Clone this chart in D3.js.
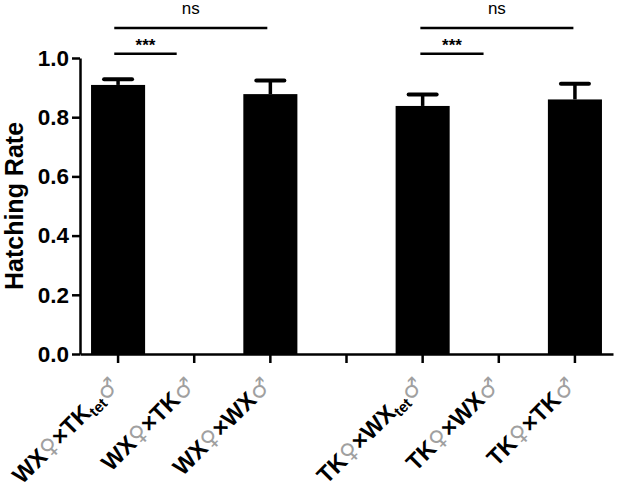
<!DOCTYPE html>
<html><head><meta charset="utf-8">
<script src="https://cdn.jsdelivr.net/npm/d3@7"></script>
<style>body{margin:0;background:#fff}svg{display:block}</style>
</head><body>
<svg id="c" width="621" height="488"></svg>
<script>
const categories = ["WX♀×TKtet♂","WX♀×TK♂","WX♀×WX♂","gap","TK♀×WXtet♂","TK♀×WX♂","TK♀×TK♂"];
const femaleParent = ["WX","WX","WX","","TK","TK","TK"];
const maleParent = ["TK","TK","WX","","WX","WX","TK"];
const maleSub = ["tet","","","","tet","",""];
const hatchingRate = [0.909, 0, 0.878, null, 0.838, 0, 0.860];
const errorUpper = [0.019, 0, 0.046, null, 0.039, 0, 0.053];
const yTicks = [0, 0.2, 0.4, 0.6, 0.8, 1.0];
const compFrom = [-0.05, -0.05, 3.97, 3.97];
const compTo = [0.77, 1.96, 4.80, 5.98];
const compLabel = ["***", "ns", "***", "ns"];
const compHeight = [1.014, 1.101, 1.014, 1.101];

const svg = d3.select("#c");
const m = {left: 80, right: 8, top: 58, bottom: 134};
const W = 621, H = 488;
const x = d3.scaleBand().domain(categories).range([m.left, W - m.right]).paddingInner(0.29).paddingOuter(0.145);
const y = d3.scaleLinear().domain([0, 1]).range([H - m.bottom, m.top]);
const bw = x.bandwidth();
const cx = i => x(categories[i]) + bw / 2;
const xi = d3.scaleLinear().domain([0, 6]).range([cx(0), cx(6)]);
const FONT = "'Liberation Sans', Arial, sans-serif";
const SYM = "'DejaVu Sans', sans-serif";

const data = categories.map((c, i) => ({c, i, v: hatchingRate[i], e: errorUpper[i]}));

// bars
svg.append("g").selectAll("rect").data(data.filter(d => d.v > 0)).join("rect")
  .attr("x", d => x(d.c)).attr("width", bw)
  .attr("y", d => y(d.v)).attr("height", d => y(0) - y(d.v))
  .attr("fill", "#000");

// error bars
const eb = svg.append("g").attr("stroke", "#000");
data.filter(d => d.v > 0).forEach(d => {
  const c = cx(d.i);
  eb.append("line").attr("x1", c).attr("x2", c).attr("y1", y(d.v)).attr("y2", y(d.v + d.e)).attr("stroke-width", 3.5);
  eb.append("line").attr("x1", c - 14).attr("x2", c + 14).attr("y1", y(d.v + d.e)).attr("y2", y(d.v + d.e))
    .attr("stroke-width", 4).attr("stroke-linecap", "round");
});

// y axis
const ya = svg.append("g").attr("transform", `translate(${m.left},0)`)
  .call(d3.axisLeft(y).tickValues(yTicks).tickFormat(d3.format(".1f")).tickSize(8).tickSizeOuter(0).tickPadding(3));
ya.selectAll("path,line").attr("stroke", "#000").attr("stroke-width", 2.5);
ya.selectAll("text").attr("font-family", FONT).attr("font-weight", "bold").attr("font-size", 22.5).attr("fill", "#000");

// x axis
const xa = svg.append("g").attr("transform", `translate(0,${y(0)})`)
  .call(d3.axisBottom(x).tickSize(9).tickSizeOuter(0).tickFormat(""));
xa.selectAll("path,line").attr("stroke", "#000").attr("stroke-width", 2.5);

// x labels
const lab = svg.append("g").attr("font-family", FONT).attr("font-size", 23.5);
data.filter(d => femaleParent[d.i]).forEach(d => {
  const t = lab.append("text").attr("text-anchor", "end")
    .attr("transform", `translate(${cx(d.i) + 2},${y(0) + 33}) rotate(-45)`);
  t.append("tspan").attr("font-weight", "bold").text(femaleParent[d.i]);
  t.append("tspan").attr("fill", "#a0a0a0").attr("font-family", SYM).attr("font-size", 23).text("♀");
  t.append("tspan").attr("font-weight", "bold").text("×" + maleParent[d.i]);
  if (maleSub[d.i]) {
    t.append("tspan").attr("font-weight", "bold").attr("font-size", 15).attr("dy", 4).text(maleSub[d.i]);
    t.append("tspan").attr("fill", "#a0a0a0").attr("font-family", SYM).attr("font-size", 23).attr("dy", -4).text("♂");
  } else {
    t.append("tspan").attr("fill", "#a0a0a0").attr("font-family", SYM).attr("font-size", 23).text("♂");
  }
});

// y title
svg.append("text").attr("transform", `translate(23,${(y(0) + y(1)) / 2}) rotate(-90)`)
  .attr("text-anchor", "middle").attr("font-family", FONT).attr("font-weight", "bold").attr("font-size", 25)
  .text("Hatching Rate");

// significance
const sg = svg.append("g");
compLabel.forEach((l, k) => {
  const yy = y(compHeight[k]);
  sg.append("line").attr("x1", xi(compFrom[k])).attr("x2", xi(compTo[k])).attr("y1", yy).attr("y2", yy)
    .attr("stroke", "#000").attr("stroke-width", 2.5);
  const mid = (xi(compFrom[k]) + xi(compTo[k])) / 2;
  const isNs = l === "ns";
  sg.append("text").attr("x", mid).attr("y", isNs ? yy - 14 : yy - 2.5)
    .attr("text-anchor", "middle").attr("font-family", FONT)
    .attr("font-weight", isNs ? "normal" : "bold").attr("font-size", 17).text(l);
});
</script>
</body></html>
